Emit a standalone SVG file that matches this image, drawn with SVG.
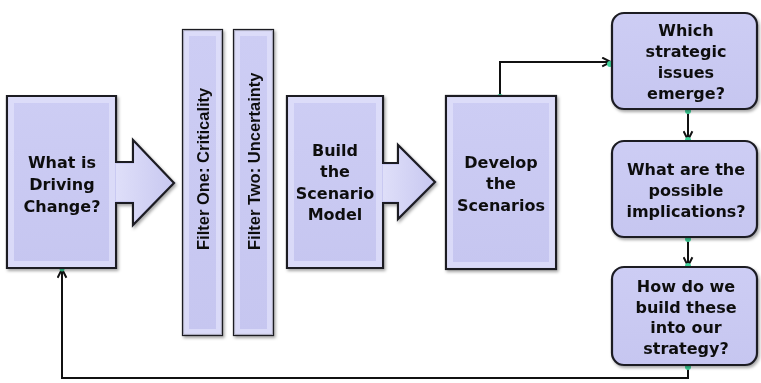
<svg xmlns="http://www.w3.org/2000/svg" width="761" height="383" viewBox="0 0 761 383">
  <defs>
    <style>
      .shape { fill: url(#fillGrad); stroke: #1c1c24; stroke-width: 2.2; stroke-linejoin: miter; }
      .bevel { fill: none; stroke: #e2e2fb; stroke-width: 6; opacity: 0.7; }
      .rbox { fill: url(#fillGrad); stroke: #1c1c24; stroke-width: 2.2; }
      .label { font-family: "DejaVu Sans", Verdana, sans-serif; font-weight: bold; font-size: 16px; fill: #111; text-anchor: middle; }
      .vlabel { font-family: "Liberation Sans", Arial, sans-serif; font-weight: bold; font-size: 16.5px; fill: #111; }
      .conn { fill: none; stroke: #111; stroke-width: 2; }
      .dot { fill: #3fd39a; }
    </style>
    <linearGradient id="fillGrad" x1="0" y1="0" x2="0" y2="1">
      <stop offset="0" stop-color="#cdcdf4"/>
      <stop offset="1" stop-color="#c6c6f0"/>
    </linearGradient>
    <linearGradient id="headGrad" x1="0" y1="0" x2="1" y2="0">
      <stop offset="0" stop-color="#e8e8fc"/>
      <stop offset="1" stop-color="#c8c8f0"/>
    </linearGradient>
    <filter id="shadow" x="-10%" y="-10%" width="130%" height="130%">
      <feDropShadow dx="1.5" dy="2" stdDeviation="1.5" flood-color="#000" flood-opacity="0.35"/>
    </filter>
    <marker id="arrow" viewBox="0 0 10 10" refX="9" refY="5" markerWidth="11" markerHeight="11" markerUnits="userSpaceOnUse" orient="auto">
      <path d="M1,1 L9,5 L1,9" fill="none" stroke="#111" stroke-width="1.8"/>
    </marker>
  </defs>

  <rect width="761" height="383" fill="#ffffff"/>

  <!-- Connectors -->
  <g id="connectors">
    <path class="conn" d="M500,96 V62 H611" marker-end="url(#arrow)"/>
    <path class="conn" d="M688,109 V140" marker-end="url(#arrow)"/>
    <path class="conn" d="M688,237 V266" marker-end="url(#arrow)"/>
    <path class="conn" d="M688,365 V378 H62 V269" marker-end="url(#arrow)"/>
    <circle class="dot" cx="500" cy="97" r="3"/>
    <circle class="dot" cx="610" cy="64" r="3"/>
    <circle class="dot" cx="688" cy="111" r="3"/>
    <circle class="dot" cx="688" cy="140" r="3"/>
    <circle class="dot" cx="688" cy="239" r="3"/>
    <circle class="dot" cx="688" cy="266" r="3"/>
    <circle class="dot" cx="688" cy="367" r="3"/>
    <circle class="dot" cx="62" cy="269" r="2.5"/>
  </g>

  <!-- What is Driving Change? (box with block arrow) -->
  <g id="driving-change" filter="url(#shadow)">
    <path class="shape" d="M7,96 H116 V162 H133 V140 L174,183 L133,225 V203 H116 V268 H7 Z"/>
    <path d="M116,164 H134 V143 L171,183 L134,222 V201 H116 Z" fill="url(#headGrad)" opacity="0.7"/>
    <rect class="bevel" x="11" y="100" width="101" height="164"/>
    <text class="label" x="62" y="168">What is</text>
    <text class="label" x="62" y="190">Driving</text>
    <text class="label" x="62" y="212">Change?</text>
  </g>

  <!-- Filter One: Criticality -->
  <g id="filter-one" filter="url(#shadow)">
    <rect class="shape" x="183" y="30" width="39" height="305"/>
    <rect class="bevel" x="186" y="33" width="33" height="299" stroke-width="3"/>
    <text class="vlabel" transform="translate(209,250) rotate(-90)">Filter One: Criticality</text>
  </g>

  <!-- Filter Two: Uncertainty -->
  <g id="filter-two" filter="url(#shadow)">
    <rect class="shape" x="234" y="30" width="39" height="305"/>
    <rect class="bevel" x="237" y="33" width="33" height="299" stroke-width="3"/>
    <text class="vlabel" transform="translate(260,250) rotate(-90)">Filter Two: Uncertainty</text>
  </g>

  <!-- Build the Scenario Model (box with block arrow) -->
  <g id="build-model" filter="url(#shadow)">
    <path class="shape" d="M287,96 H383 V163 H398 V145 L435,182 L398,219 V203 H383 V268 H287 Z"/>
    <path d="M383,165 H399 V148 L432,182 L399,216 V201 H383 Z" fill="url(#headGrad)" opacity="0.7"/>
    <rect class="bevel" x="291" y="100" width="88" height="164"/>
    <text class="label" x="335" y="156">Build</text>
    <text class="label" x="335" y="177">the</text>
    <text class="label" x="335" y="199">Scenario</text>
    <text class="label" x="335" y="220">Model</text>
  </g>

  <!-- Develop the Scenarios -->
  <g id="develop-scenarios" filter="url(#shadow)">
    <rect class="shape" x="446" y="96" width="110" height="173"/>
    <rect class="bevel" x="450" y="100" width="102" height="165"/>
    <text class="label" x="501" y="168">Develop</text>
    <text class="label" x="501" y="189">the</text>
    <text class="label" x="501" y="211">Scenarios</text>
  </g>

  <!-- Which strategic issues emerge? -->
  <g id="strategic-issues" filter="url(#shadow)">
    <rect class="rbox" x="612" y="13" width="145" height="96" rx="12" ry="12"/>
    <text class="label" x="686" y="36">Which</text>
    <text class="label" x="686" y="57">strategic</text>
    <text class="label" x="686" y="78">issues</text>
    <text class="label" x="686" y="99">emerge?</text>
  </g>

  <!-- What are the possible implications? -->
  <g id="implications" filter="url(#shadow)">
    <rect class="rbox" x="612" y="141" width="145" height="96" rx="12" ry="12"/>
    <text class="label" x="686" y="175">What are the</text>
    <text class="label" x="686" y="196">possible</text>
    <text class="label" x="686" y="217">implications?</text>
  </g>

  <!-- How do we build these into our strategy? -->
  <g id="build-strategy" filter="url(#shadow)">
    <rect class="rbox" x="612" y="267" width="145" height="98" rx="12" ry="12"/>
    <text class="label" x="686" y="292">How do we</text>
    <text class="label" x="686" y="313">build these</text>
    <text class="label" x="686" y="333">into our</text>
    <text class="label" x="686" y="354">strategy?</text>
  </g>
</svg>
